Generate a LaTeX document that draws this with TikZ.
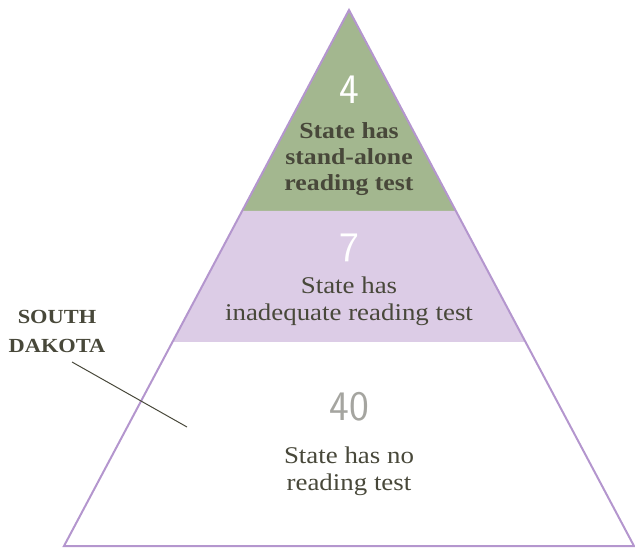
\documentclass[tikz,border=0pt]{standalone}
\usepackage{fontspec}
\usepackage{xcolor}
\usepackage{tikz}
\usetikzlibrary{positioning, calc}
\newfontfamily\pyrfont[FakeStretch=1.12]{Liberation Serif}
\definecolor{pyrLine}{RGB}{180, 150, 206}
\definecolor{fillGreen}{RGB}{163, 183, 143}
\definecolor{fillLilac}{RGB}{220, 204, 230}
\definecolor{textDark}{RGB}{72, 72, 58}
\definecolor{numGray}{RGB}{165, 165, 160}
\tikzset{
    bandtext/.style={align=center, text=textDark, inner sep=0pt,
        font=\pyrfont\fontsize{24}{27}\selectfont},
    bandnum/.style={inner sep=0pt, font=\sffamily\fontsize{42}{44}\selectfont}
}

\begin{document}
\begin{tikzpicture}[x=1pt, y=-1pt]
        \useasboundingbox (0,0) rectangle (635,548);
        % 座標設定
        \coordinate (T) at (349,10);
        \coordinate (L) at (64,546);
        \coordinate (R) at (634,546);
        \coordinate (gL) at ($(L)!0.625!(T)$);
        \coordinate (gR) at ($(R)!0.625!(T)$);
        \coordinate (pL) at ($(L)!0.381!(T)$);
        \coordinate (pR) at ($(R)!0.381!(T)$);

        % 帯の塗り
        \fill[fillGreen] (T)--(gL)--(gR)--cycle;
        \fill[fillLilac] (gL)--(pL)--(pR)--(gR)--cycle;
        \draw[pyrLine, line width=2pt, line join=miter] (T)--(L)--(R)--cycle;

        % 上段
        \node[bandnum, text=white] (nTop) at (349,90) {4};
        \node[bandtext, font=\pyrfont\bfseries\fontsize{23}{26}\selectfont] (tTop) at (349,159)
            {State has\\stand-alone\\reading test};
        % 中段
        \node[bandnum, text=white] (nMid) at (349,248) {7};
        \node[bandtext] (tMid) at (349,301) {State has\\inadequate reading test};
        % 下段
        \node[bandnum, text=numGray] (nLow) at (349,407) {40};
        \node[bandtext] (tLow) at (349,471) {State has no\\reading test};

        % SOUTH DAKOTA
        \node[align=center, text=textDark, inner sep=0pt,
            font=\pyrfont\bfseries\fontsize{20}{29}\selectfont] (sd) at (57,331) {SOUTH\\DAKOTA};
        \coordinate (sdA) at (72,362);
        \coordinate (sdB) at (187,427);
        \draw[textDark, line width=1pt] (sdA)--(sdB);
    \end{tikzpicture}
\end{document}
